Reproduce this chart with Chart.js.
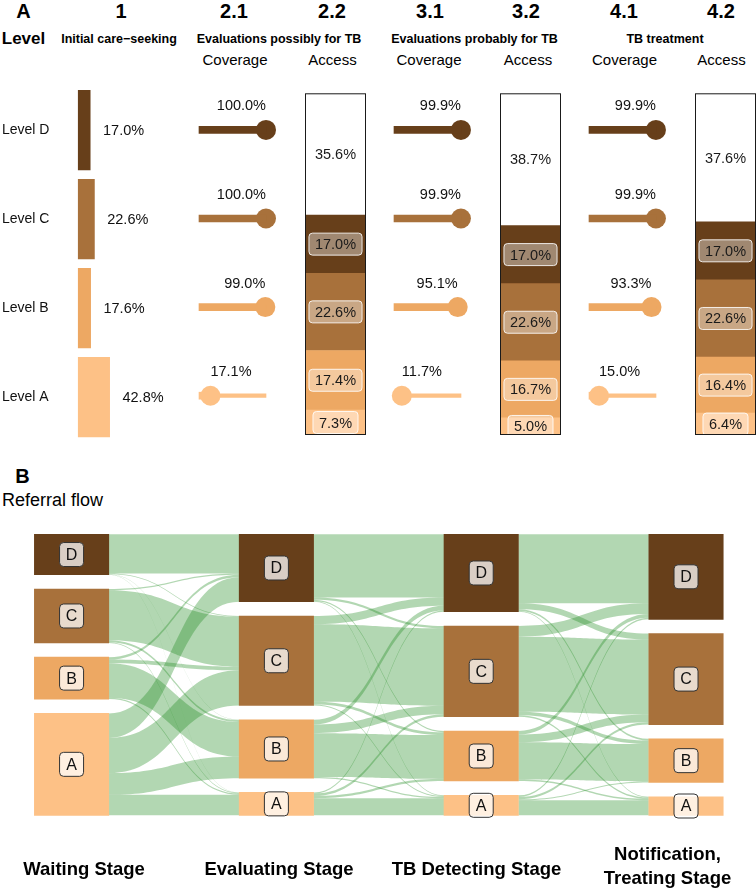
<!DOCTYPE html>
<html>
<head>
<meta charset="utf-8">
<script src="https://cdn.jsdelivr.net/npm/chart.js@4.4.0/dist/chart.umd.min.js"></script>
<style>
  body { margin: 0; background: #fff; font-family: 'Liberation Sans', Arial, Helvetica, sans-serif; }
  #page { position: relative; width: 756px; height: 894px; overflow: hidden; }
  .box { position: absolute; }
  .t { position: absolute; transform: translate(-50%, -50%); white-space: nowrap; color: #000; }
  .num { font-weight: bold; font-size: 20px; }
  .sub { font-weight: bold; font-size: 12.5px; }
  .col { font-size: 15px; }
  .stage { font-weight: bold; font-size: 18.5px; text-align: center; line-height: 24px; }
</style>
</head>
<body>
<div id="page">
  <!-- panel A headers -->
  <div class="t num" style="left:23.5px;top:10.5px">A</div>
  <div class="t num" style="left:121px;top:10.5px">1</div>
  <div class="t num" style="left:234px;top:10.5px">2.1</div>
  <div class="t num" style="left:332px;top:10.5px">2.2</div>
  <div class="t num" style="left:430px;top:10.5px">3.1</div>
  <div class="t num" style="left:526px;top:10.5px">3.2</div>
  <div class="t num" style="left:624px;top:10.5px">4.1</div>
  <div class="t num" style="left:721px;top:10.5px">4.2</div>

  <div class="t" style="left:23.5px;top:38.5px;font-weight:bold;font-size:17px">Level</div>
  <div class="t sub" style="left:119px;top:38.5px">Initial care−seeking</div>
  <div class="t sub" style="left:279px;top:38.5px">Evaluations possibly for TB</div>
  <div class="t sub" style="left:474.5px;top:38.5px">Evaluations probably for TB</div>
  <div class="t sub" style="left:665px;top:38.5px">TB treatment</div>

  <div class="t col" style="left:235px;top:59px">Coverage</div>
  <div class="t col" style="left:332.5px;top:59px">Access</div>
  <div class="t col" style="left:429px;top:59px">Coverage</div>
  <div class="t col" style="left:528px;top:59px">Access</div>
  <div class="t col" style="left:624.5px;top:59px">Coverage</div>
  <div class="t col" style="left:721.5px;top:59px">Access</div>

  <div class="box" style="left:0;top:0;width:200px;height:450px"><canvas id="initCare"></canvas></div>
  <div class="box" style="left:159px;top:0;width:147px;height:450px"><canvas id="cov21"></canvas></div>
  <div class="box" style="left:354px;top:0;width:147px;height:450px"><canvas id="cov31"></canvas></div>
  <div class="box" style="left:549px;top:0;width:147px;height:450px"><canvas id="cov41"></canvas></div>
  <div class="box" style="left:305px;top:0;width:61px;height:450px"><canvas id="acc22"></canvas></div>
  <div class="box" style="left:499.5px;top:0;width:61px;height:450px"><canvas id="acc32"></canvas></div>
  <div class="box" style="left:695px;top:0;width:61px;height:450px"><canvas id="acc42"></canvas></div>

  <!-- panel B -->
  <div class="t num" style="left:22.5px;top:476px">B</div>
  <div class="t" style="left:2px;top:500px;transform:translate(0,-50%);font-size:18px">Referral flow</div>
  <div class="box" style="left:0;top:520px;width:756px;height:374px"><canvas id="sankey"></canvas></div>

  <div class="t stage" style="left:84px;top:869px">Waiting Stage</div>
  <div class="t stage" style="left:279px;top:869px">Evaluating Stage</div>
  <div class="t stage" style="left:476.5px;top:869px">TB Detecting Stage</div>
  <div class="t stage" style="left:667.5px;top:866px">Notification,<br>Treating Stage</div>
</div>

<script>
// ---------- datos ----------
const levels = ['Level D', 'Level C', 'Level B', 'Level A'];
const levelLetters = ['D', 'C', 'B', 'A'];
const levelColors = ['#673F1A', '#A8713B', '#EDA863', '#FDC186'];

// 1. búsqueda inicial de atención (%)
const initialCare = [17.0, 22.6, 17.6, 42.8];

// cobertura (%)
const coverage21 = [100.0, 100.0, 99.0, 17.1];
const coverage31 = [99.9, 99.9, 95.1, 11.7];
const coverage41 = [99.9, 99.9, 93.3, 15.0];

// acceso (%), niveles D..A + sin acceso
const access22 = [17.0, 22.6, 17.4, 7.3];
const noAccess22 = 35.6;
const access32 = [17.0, 22.6, 16.7, 5.0];
const noAccess32 = 38.7;
const access42 = [17.0, 22.6, 16.4, 6.4];
const noAccess42 = 37.6;

// flujo de derivación: filas = origen D..A, columnas = destino D..A
const flowWaitEval = [
    [16.5, 0.3, 0.1, 0.1],
    [0.5, 21.0, 0.8, 0.3],
    [1.0, 1.5, 14.5, 0.6],
    [10.3, 14.8, 9.1, 8.6]
];
const flowEvalDetect = [
    [26.5, 1.0, 0.5, 0.3],
    [3.5, 32.5, 1.2, 0.4],
    [2.0, 3.6, 18.4, 0.5],
    [0.5, 1.0, 0.9, 7.2]
];
const flowDetectTreat = [
    [29.0, 2.5, 0.7, 0.3],
    [4.5, 31.5, 1.5, 0.6],
    [1.5, 3.2, 15.7, 0.6],
    [0.7, 1.0, 0.4, 6.3]
];
const stageNames = ['Waiting Stage', 'Evaluating Stage', 'TB Detecting Stage', 'Notification, Treating Stage'];

// ---------- layout ----------
Chart.defaults.font.family = "'Liberation Sans', Arial, Helvetica, sans-serif";
Chart.defaults.color = '#000';

const ROW_TOP = 85.6;
const ROW_BOTTOM = 7;
const FONT = "14.5px 'Liberation Sans', Arial, sans-serif";

function roundRect(ctx, x, y, w, h, r) {
    ctx.beginPath();
    ctx.moveTo(x + r, y);
    ctx.arcTo(x + w, y, x + w, y + h, r);
    ctx.arcTo(x + w, y + h, x, y + h, r);
    ctx.arcTo(x, y + h, x, y, r);
    ctx.arcTo(x, y, x + w, y, r);
    ctx.closePath();
}

const baseOptions = {
    responsive: true,
    maintainAspectRatio: false,
    animation: false,
    events: [],
    plugins: { legend: { display: false }, tooltip: { enabled: false } }
};

// ===========================
// 1. INITIAL CARE-SEEKING
// ===========================
const initLabels = {
    id: 'initLabels',
    afterDatasetsDraw(chart) {
        const ctx = chart.ctx;
        const meta = chart.getDatasetMeta(0);
        ctx.save();
        ctx.font = FONT;
        ctx.fillStyle = '#111';
        ctx.textAlign = 'left';
        ctx.textBaseline = 'middle';
        meta.data.forEach((el, i) => {
            ctx.fillText(initialCare[i].toFixed(1) + '%', el.x + 12.5, el.y + 1);
        });
        ctx.restore();
    }
};

new Chart(document.getElementById('initCare'), {
    type: 'bar',
    data: {
        labels: levels,
        datasets: [{
            data: initialCare,
            backgroundColor: levelColors,
            barPercentage: 0.9,
            categoryPercentage: 1
        }]
    },
    options: {
        ...baseOptions,
        indexAxis: 'y',
        layout: { padding: { left: 2, right: 46.9, top: ROW_TOP, bottom: ROW_BOTTOM } },
        scales: {
            x: { type: 'linear', min: 0, max: 100, display: false },
            y: {
                type: 'category',
                offset: true,
                grid: { display: false },
                border: { display: false },
                ticks: { crossAlign: 'far', color: '#111', font: { size: 14 }, padding: 0 },
                afterFit: (s) => { s.width = 75.7; }
            }
        }
    },
    plugins: [initLabels]
});

// ===========================
// COVERAGE (lollipops)
// ===========================
const coverageLabels = {
    id: 'coverageLabels',
    afterDatasetsDraw(chart) {
        const ctx = chart.ctx;
        const meta = chart.getDatasetMeta(2);
        const values = chart.data.datasets[2].data;
        ctx.save();
        ctx.font = FONT;
        ctx.fillStyle = '#111';
        ctx.textBaseline = 'middle';
        meta.data.forEach((el, i) => {
            ctx.textAlign = values[i] > 50 ? 'right' : 'left';
            ctx.fillText(values[i].toFixed(1) + '%', el.x, el.y - 23.5);
        });
        ctx.restore();
    }
};

function makeCoverage(id, values) {
    new Chart(document.getElementById(id), {
        type: 'bar',
        data: {
            labels: levels,
            datasets: [
                {
                    data: values.map(v => [0, v]),
                    backgroundColor: levelColors,
                    barThickness: 7,
                    grouped: false,
                    clip: false
                },
                {
                    data: values.map(v => [v, 100]),
                    backgroundColor: levelColors,
                    barThickness: 3.5,
                    grouped: false,
                    clip: false
                },
                {
                    type: 'line',
                    data: values,
                    showLine: false,
                    pointRadius: 10,
                    pointHoverRadius: 10,
                    pointBorderWidth: 0,
                    pointBackgroundColor: levelColors,
                    clip: false
                }
            ]
        },
        options: {
            ...baseOptions,
            indexAxis: 'y',
            layout: { padding: { left: 40, right: 40, top: ROW_TOP, bottom: ROW_BOTTOM } },
            scales: {
                x: { type: 'linear', min: 0, max: 100, display: false },
                y: { type: 'category', offset: true, display: false }
            }
        },
        plugins: [coverageLabels]
    });
}

makeCoverage('cov21', coverage21);
makeCoverage('cov31', coverage31);
makeCoverage('cov41', coverage41);

// ===========================
// ACCESS (stacked bars)
// ===========================
const accessLabels = {
    id: 'accessLabels',
    afterDatasetsDraw(chart) {
        const ctx = chart.ctx;
        const ys = chart.scales.y;
        ctx.save();
        ctx.font = FONT;
        ctx.textAlign = 'center';
        ctx.textBaseline = 'middle';
        let left = 0, right = 0;
        chart.data.datasets.forEach((ds, d) => {
            const el = chart.getDatasetMeta(d).data[0];
            const v = ds.data[0];
            const cx = el.x;
            const cy = (el.y + el.base) / 2;
            left = el.x - el.width / 2;
            right = el.x + el.width / 2;
            const txt = v.toFixed(1) + '%';
            if (!ds.isRest) {
                const w = ctx.measureText(txt).width + 12;
                roundRect(ctx, cx - w / 2, cy - 11, w, 22, 3.5);
                ctx.fillStyle = 'rgba(255,255,255,0.38)';
                ctx.fill();
                ctx.strokeStyle = 'rgba(255,255,255,0.85)';
                ctx.lineWidth = 1;
                ctx.stroke();
            }
            ctx.fillStyle = '#1a1a1a';
            ctx.fillText(txt, cx, cy + 1);
        });
        // borde negro
        const top = ys.getPixelForValue(ys.max);
        const bottom = ys.getPixelForValue(0);
        ctx.strokeStyle = '#1a1a1a';
        ctx.lineWidth = 1;
        ctx.strokeRect(left + 0.5, top + 0.5, right - left - 1, bottom - top - 1);
        ctx.restore();
    }
};

function makeAccess(id, values, rest) {
    const datasets = values.map((v, i) => ({
        data: [v],
        backgroundColor: levelColors[i]
    })).reverse();
    datasets.push({ data: [rest], backgroundColor: '#ffffff', isRest: true });
    const total = values.reduce((a, b) => a + b, 0) + rest;

    new Chart(document.getElementById(id), {
        type: 'bar',
        data: { labels: [''], datasets: datasets },
        options: {
            ...baseOptions,
            datasets: { bar: { barPercentage: 1, categoryPercentage: 1 } },
            layout: { padding: { left: 0, right: 0, top: 93.3, bottom: 15 } },
            scales: {
                x: { stacked: true, display: false },
                y: { stacked: true, min: 0, max: total, display: false }
            }
        },
        plugins: [accessLabels]
    });
}

makeAccess('acc22', access22, noAccess22);
makeAccess('acc32', access32, noAccess32);
makeAccess('acc42', access42, noAccess42);

// ===========================
// B. REFERRAL FLOW (sankey)
// ===========================
const transitions = [flowWaitEval, flowEvalDetect, flowDetectTreat];
const NODE_GAP = 6;
const NODE_W = 74.4;
const FLOW_COLOR = 'rgba(34, 139, 34, 0.35)';

// totales por nodo (columna x nivel)
const nodeVals = [transitions[0].map(row => row.reduce((a, b) => a + b, 0))];
transitions.forEach(F => {
    nodeVals.push(levelLetters.map((_, j) => F.reduce((a, row) => a + row[j], 0)));
});
const nodeStart = nodeVals.map(col => {
    let y = 0;
    return col.map(v => { const s = y; y += v + NODE_GAP; return s; });
});
const yMax = nodeVals[0].reduce((a, b) => a + b, 0) + NODE_GAP * 3;

const sankeyFlows = {
    id: 'sankeyFlows',
    beforeDatasetsDraw(chart) {
        const ctx = chart.ctx;
        const ys = chart.scales.y;
        const metas = levelLetters.map((_, k) => chart.getDatasetMeta(k));
        ctx.save();
        ctx.fillStyle = FLOW_COLOR;
        transitions.forEach((F, t) => {
            const srcOff = [0, 0, 0, 0];
            const dstOff = [0, 0, 0, 0];
            F.forEach((row, i) => {
                row.forEach((f, j) => {
                    const s = metas[i].data[t];
                    const d = metas[j].data[t + 1];
                    const x0 = s.x + s.width / 2;
                    const x1 = d.x - d.width / 2;
                    const xm = (x0 + x1) / 2;
                    const s0 = ys.getPixelForValue(nodeStart[t][i] + srcOff[i]);
                    const s1 = ys.getPixelForValue(nodeStart[t][i] + srcOff[i] + f);
                    const d0 = ys.getPixelForValue(nodeStart[t + 1][j] + dstOff[j]);
                    const d1 = ys.getPixelForValue(nodeStart[t + 1][j] + dstOff[j] + f);
                    srcOff[i] += f;
                    dstOff[j] += f;
                    if (f <= 0) return;
                    ctx.beginPath();
                    ctx.moveTo(x0, s0);
                    ctx.bezierCurveTo(xm, s0, xm, d0, x1, d0);
                    ctx.lineTo(x1, d1);
                    ctx.bezierCurveTo(xm, d1, xm, s1, x0, s1);
                    ctx.closePath();
                    ctx.fill();
                });
            });
        });
        ctx.restore();
    },
    afterDatasetsDraw(chart) {
        const ctx = chart.ctx;
        ctx.save();
        ctx.font = "16px 'Liberation Sans', Arial, sans-serif";
        ctx.textAlign = 'center';
        ctx.textBaseline = 'middle';
        levelLetters.forEach((letter, k) => {
            chart.getDatasetMeta(k).data.forEach(el => {
                const cx = el.x;
                const cy = (el.y + el.base) / 2;
                roundRect(ctx, cx - 12, cy - 12, 24, 24, 4);
                ctx.fillStyle = 'rgba(255,255,255,0.75)';
                ctx.fill();
                ctx.strokeStyle = '#333';
                ctx.lineWidth = 1;
                ctx.stroke();
                ctx.fillStyle = '#111';
                ctx.fillText(letter, cx, cy + 1);
            });
        });
        ctx.restore();
    }
};

new Chart(document.getElementById('sankey'), {
    type: 'bar',
    data: {
        datasets: levelLetters.map((letter, k) => ({
            label: letter,
            data: nodeVals.map((col, c) => ({
                x: c + 1,
                y: [nodeStart[c][k], nodeStart[c][k] + col[k]]
            })),
            backgroundColor: levelColors[k],
            barThickness: NODE_W,
            grouped: false,
            clip: false
        }))
    },
    options: {
        ...baseOptions,
        layout: { padding: { left: 34.3, right: 32.7, top: 14.3, bottom: 78.7 } },
        scales: {
            x: { type: 'linear', min: 0.818, max: 4.182, offset: false, display: false },
            y: { type: 'linear', min: 0, max: yMax, reverse: true, display: false }
        }
    },
    plugins: [sankeyFlows]
});
</script>
</body>
</html>
